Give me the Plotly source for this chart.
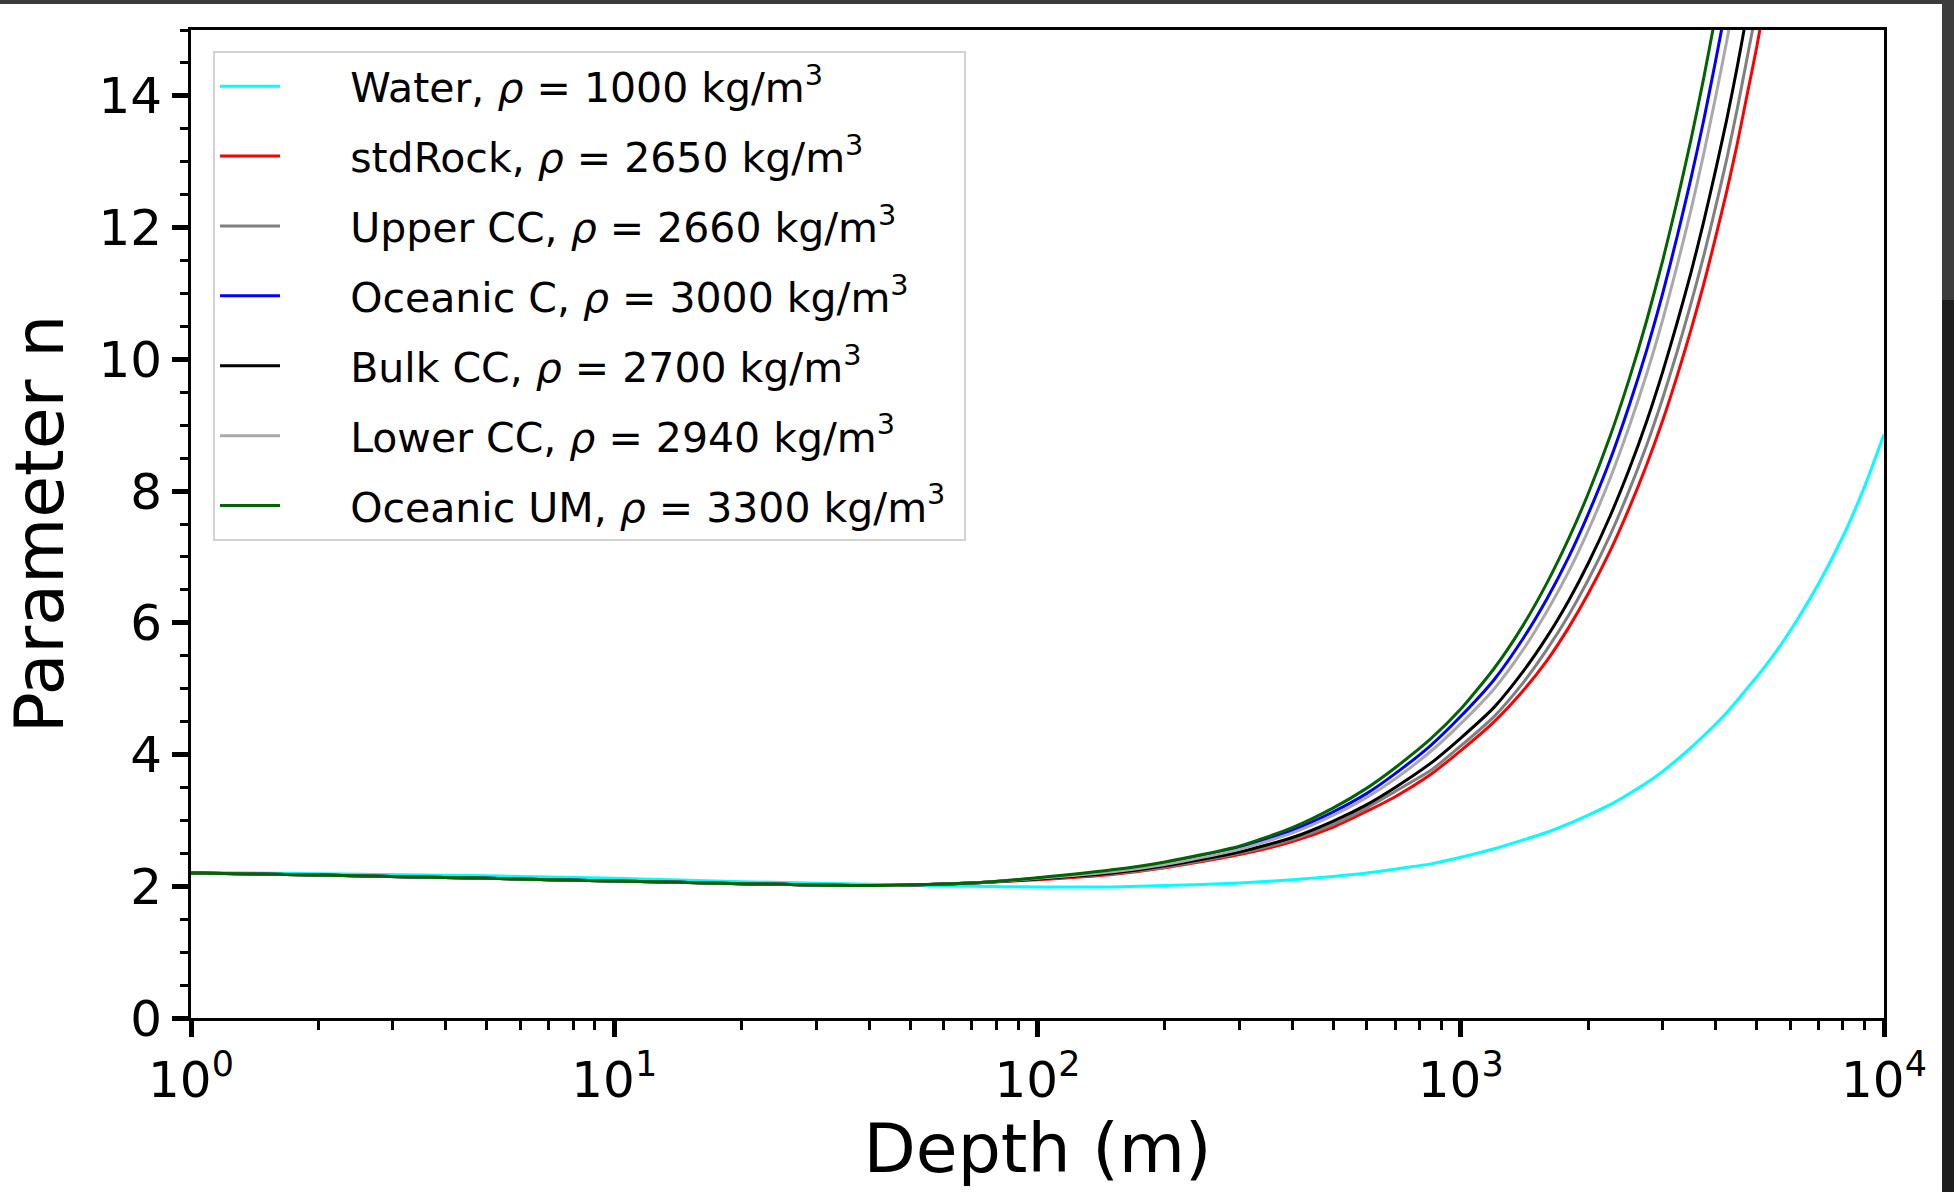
import plotly.graph_objects as go

# ---------------- data ----------------
depth = [1, 2, 5, 10, 20, 40, 70, 100, 150, 200, 300, 400, 500, 600, 700, 850,
         1000, 1200, 1400, 1600, 1800, 2000, 2250, 2500, 2750, 3000, 3250, 3500,
         3750, 4000, 4250, 4500, 4750, 5000, 5500, 6000, 7000, 8000, 9000, 10000]

n_water = [2.21, 2.19, 2.16, 2.12, 2.07, 2.03, 2.00, 1.99, 1.99, 2.01, 2.05, 2.10,
           2.15, 2.20, 2.26, 2.34, 2.44, 2.57, 2.70, 2.82, 2.95, 3.08, 3.235, 3.405,
           3.57, 3.745, 3.925, 4.105, 4.285, 4.46, 4.635, 4.82, 5.005, 5.175, 5.52, 5.875,
           6.59, 7.31, 8.07, 8.86]

n_stdrock = [2.20, 2.17, 2.12, 2.08, 2.04, 2.01, 2.05, 2.10, 2.18, 2.28, 2.48, 2.68,
             2.90, 3.14, 3.36, 3.70, 4.06, 4.50, 4.96, 5.43, 5.93, 6.44, 7.08, 7.74,
             8.40, 9.07, 9.76, 10.45, 11.14, 11.85, 12.55, 13.27, 14.02, 14.73, 16.19]

n_upper_cc = [2.20, 2.17, 2.12, 2.08, 2.04, 2.01, 2.05, 2.11, 2.19, 2.29, 2.50, 2.71,
              2.94, 3.19, 3.44, 3.76, 4.13, 4.58, 5.08, 5.60, 6.12, 6.65, 7.32, 8.01,
              8.70, 9.41, 10.13, 10.85, 11.57, 12.31, 13.04, 13.80, 14.58, 15.33, 16.86]

n_oceanic_c = [2.20, 2.17, 2.12, 2.08, 2.04, 2.01, 2.05, 2.12, 2.24, 2.35, 2.58, 2.85,
               3.13, 3.41, 3.71, 4.14, 4.58, 5.14, 5.75, 6.37, 7.00, 7.65, 8.46, 9.30,
               10.14, 11.00, 11.88, 12.75, 13.63, 14.53, 15.42, 16.34]

n_bulk_cc = [2.20, 2.17, 2.12, 2.08, 2.04, 2.01, 2.05, 2.11, 2.20, 2.31, 2.52, 2.74,
             2.99, 3.24, 3.50, 3.87, 4.25, 4.72, 5.25, 5.79, 6.34, 6.90, 7.61, 8.33,
             9.06, 9.81, 10.57, 11.32, 12.09, 12.87, 13.64, 14.44, 15.26, 16.05]

n_lower_cc = [2.20, 2.17, 2.12, 2.08, 2.04, 2.01, 2.05, 2.12, 2.22, 2.33, 2.56, 2.81,
              3.08, 3.35, 3.63, 4.05, 4.47, 5.00, 5.58, 6.18, 6.78, 7.40, 8.18, 8.98,
              9.78, 10.60, 11.44, 12.27, 13.12, 13.98, 14.83, 15.71, 16.61]

n_oceanic_um = [2.20, 2.17, 2.12, 2.08, 2.04, 2.01, 2.05, 2.13, 2.25, 2.37, 2.61, 2.89,
                3.19, 3.49, 3.80, 4.24, 4.69, 5.31, 5.95, 6.61, 7.28, 7.96, 8.82, 9.70,
                10.59, 11.50, 12.42, 13.34, 14.27, 15.22, 16.16]

series_names = ["Water", "stdRock", "Upper CC", "Oceanic C", "Bulk CC", "Lower CC", "Oceanic UM"]
series_rho = [1000, 2650, 2660, 3000, 2700, 2940, 3300]
series_values = [n_water, n_stdrock, n_upper_cc, n_oceanic_c, n_bulk_cc, n_lower_cc, n_oceanic_um]
series_colors = ["#00FFFF", "#FF0000", "#808080", "#0000FF", "#000000", "#A9A9A9", "#006400"]

x_tick_vals = [1, 10, 100, 1000, 10000]
x_tick_text = ["10<sup>0</sup>", "10<sup>1</sup>", "10<sup>2</sup>", "10<sup>3</sup>", "10<sup>4</sup>"]
x_minor_vals = [m * 10 ** e for e in range(4) for m in range(2, 10)]
y_tick_vals = [0, 2, 4, 6, 8, 10, 12, 14]

# ---------------- figure ----------------
W, H = 1954, 1192
ML, MR, MT, MB = 191, 70, 30, 174
FONT = "DejaVu Sans"
PAD = "\u00a0" * 5

fig = go.Figure()
for name, rho, vals, col in zip(series_names, series_rho, series_values, series_colors):
    ys = vals + [None] * (len(depth) - len(vals))
    fig.add_trace(go.Scatter(
        x=depth, y=ys, mode="lines",
        name=f"{PAD}{name}, <i>ρ</i> = {rho} kg/m<sup>3</sup>\u00a0",
        line=dict(color=col, width=3, shape="spline", smoothing=0.6),
        legendgroup=name, connectgaps=False,
    ))

pw = W - ML - MR
ph = H - MT - MB

fig.update_layout(
    width=W, height=H,
    margin=dict(l=ML, r=MR, t=MT, b=MB, pad=0),
    paper_bgcolor="white", plot_bgcolor="white",
    font=dict(family=FONT, color="black", size=50),
    showlegend=True,
    legend=dict(
        x=(213 - ML) / pw, y=1 - (51 - MT) / ph, xanchor="left", yanchor="top",
        bgcolor="rgba(255,255,255,0.8)", bordercolor="#d3d3d3", borderwidth=2,
        font=dict(family=FONT, size=41, color="black"),
        traceorder="grouped", tracegroupgap=13.6, itemwidth=60,
    ),
    xaxis=dict(
        type="log", range=[0, 4],
        tickvals=x_tick_vals, ticktext=x_tick_text,
        ticks="outside", ticklen=16, tickwidth=5, tickcolor="black",
        minor=dict(tickvals=x_minor_vals, ticks="outside", ticklen=9, tickwidth=3, tickcolor="black"),
        showline=True, linewidth=3, linecolor="black", mirror=True,
        showgrid=False, zeroline=False,
        tickfont=dict(family=FONT, size=50),
        title=dict(text="Depth (m)", font=dict(family=FONT, size=68), standoff=11),
    ),
    yaxis=dict(
        range=[0, 15],
        tickvals=y_tick_vals,
        ticks="outside", ticklen=16, tickwidth=5, tickcolor="black",
        minor=dict(dtick=0.5, ticks="outside", ticklen=8, tickwidth=3, tickcolor="black"),
        showline=True, linewidth=3, linecolor="black", mirror=True,
        showgrid=False, zeroline=False,
        tickfont=dict(family=FONT, size=50),
        title=dict(text="Parameter n", font=dict(family=FONT, size=68), standoff=22),
    ),
)

# screenshot frame edges (dark strips at top and right of the reference image)
def px_x(p):
    return (p - ML) / pw

def px_y(p):
    return 1 - (p - MT) / ph

fig.add_shape(type="rect", xref="paper", yref="paper", x0=px_x(0), x1=px_x(W), y0=px_y(4), y1=px_y(0),
              fillcolor="#3a3a3a", line=dict(width=0), layer="above")
fig.add_shape(type="rect", xref="paper", yref="paper", x0=px_x(1942), x1=px_x(W), y0=px_y(300), y1=px_y(0),
              fillcolor="#3d3d3d", line=dict(width=0), layer="above")
fig.add_shape(type="rect", xref="paper", yref="paper", x0=px_x(1942), x1=px_x(W), y0=px_y(H), y1=px_y(300),
              fillcolor="#1e1e1e", line=dict(width=0), layer="above")

fig.write_html("out.html")
